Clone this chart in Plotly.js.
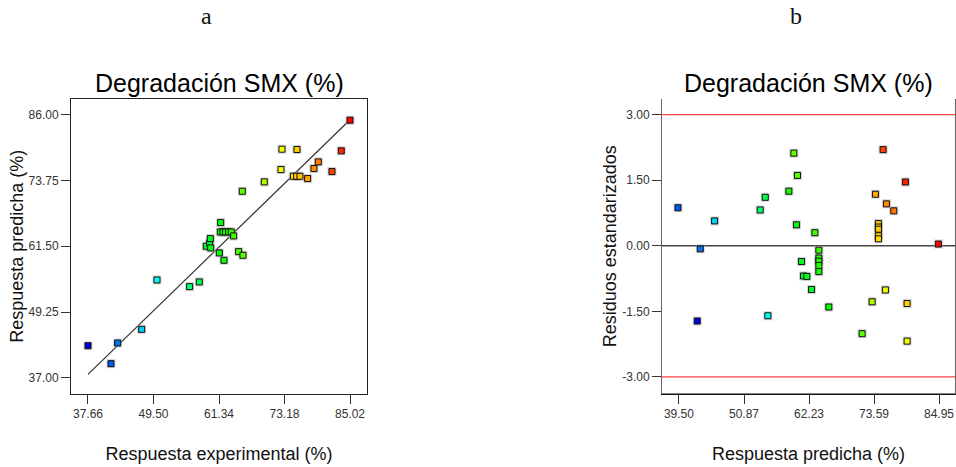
<!DOCTYPE html>
<html>
<head>
<meta charset="utf-8">
<script src="https://cdn.plot.ly/plotly-3.0.1.min.js"></script>
<style>html,body{margin:0;padding:0;background:#fff;}#chart{width:956px;height:467px;}</style>
</head>
<body>
<div id="chart"></div>
<script>
// ---- Panel a: predicted vs experimental ----
const experimental = [37.66, 41.82, 43.02, 47.36, 50.13, 56.03, 57.78, 59.05, 59.65, 59.77, 59.83, 61.40, 61.64,
  61.58, 62.06, 62.54, 63.08, 63.56, 63.98, 62.24, 64.89, 65.67, 65.55, 69.53, 72.54, 72.72, 75.43,
  74.77, 75.37, 75.97, 77.36, 78.50, 79.29, 81.76, 83.44, 85.02];
const predictedA = [43.00, 39.66, 43.51, 46.05, 55.23, 53.99, 54.86, 61.50, 62.05, 62.92, 61.19, 60.26, 65.90,
  64.16, 64.16, 64.16, 64.16, 64.16, 63.42, 58.89, 60.50, 59.82, 71.73, 73.47, 75.76, 79.55, 79.49,
  74.52, 74.52, 74.52, 74.09, 75.95, 77.19, 75.39, 79.24, 84.95];
const fitLine = [37.66, 85.02];

// ---- Panel b: standardized residuals vs predicted ----
const predictedB = [39.33, 43.23, 42.70, 45.73, 53.70, 54.58, 55.04, 58.71, 59.58, 60.22, 60.05, 60.92, 61.27,
  61.85, 62.67, 63.25, 63.95, 63.95, 63.95, 63.95, 63.95, 65.69, 71.51, 73.26, 73.84,
  74.36, 74.36, 74.36, 74.36, 74.36, 75.18, 75.76, 75.58, 77.04, 79.08, 79.37, 79.37, 84.84];
const residuals = [0.87, -0.07, -1.72, 0.57, 0.82, 1.11, -1.60, 1.25, 2.12, 1.61, 0.48, -0.36, -0.69,
  -0.70, -1.00, 0.30, -0.10, -0.28, -0.35, -0.45, -0.59, -1.40, -2.01, -1.28, 1.18,
  0.51, 0.43, 0.38, 0.23, 0.16, 2.20, 0.96, -1.01, 0.80, 1.46, -1.32, -2.18, 0.04];
const actualB = [41.9, 43.0, 37.7, 47.4, 56.2, 57.9, 50.2, 62.5, 65.9, 65.1, 61.5, 59.8, 59.2,
  59.8, 59.7, 64.2, 63.7, 63.1, 62.9, 62.6, 62.2, 61.5, 65.5, 69.4, 77.4,
  75.9, 75.7, 75.5, 75.1, 74.8, 81.8, 78.6, 72.6, 79.4, 83.5, 75.4, 72.8, 85.0];
const limits = [-3, 3];
const zeroLevel = [0];

// ---- Tick labels ----
const xTicksA = [37.66, 49.50, 61.34, 73.18, 85.02];
const xTickTextA = ["37.66", "49.50", "61.34", "73.18", "85.02"];
const yTicksA = [37.00, 49.25, 61.50, 73.75, 86.00];
const yTickTextA = ["37.00", "49.25", "61.50", "73.75", "86.00"];
const xTicksB = [39.50, 50.87, 62.23, 73.59, 84.95];
const xTickTextB = ["39.50", "50.87", "62.23", "73.59", "84.95"];
const yTicksB = [-3.00, -1.50, 0.00, 1.50, 3.00];
const yTickTextB = ["-3.00", "-1.50", "0.00", "1.50", "3.00"];

const cmin = 37.66, cmax = 85.02;
const scale = [[0, '#0000e6'], [0.25, '#00ffff'], [0.5, '#00ff00'], [0.75, '#ffff00'], [1, '#ff0000']];
const FONT = 'Liberation Sans, Arial, sans-serif';

const halo = {symbol: 'square', size: 9, color: 'rgba(170,170,170,0.5)', line: {width: 0}};
function pts(color) {
  return {symbol: 'square', size: 6, color: color, colorscale: scale, cmin: cmin, cmax: cmax,
          showscale: false, line: {color: '#111', width: 1}};
}

const traces = [
  {x: fitLine, y: fitLine, mode: 'lines', line: {color: '#333', width: 1.2}, xaxis: 'x', yaxis: 'y', hoverinfo: 'skip'},
  {x: experimental, y: predictedA, mode: 'markers', marker: halo, xaxis: 'x', yaxis: 'y', hoverinfo: 'skip'},
  {x: experimental, y: predictedA, mode: 'markers', marker: pts(experimental), xaxis: 'x', yaxis: 'y'},
  {x: predictedB, y: residuals, mode: 'markers', marker: halo, xaxis: 'x2', yaxis: 'y2', hoverinfo: 'skip'},
  {x: predictedB, y: residuals, mode: 'markers', marker: pts(actualB), xaxis: 'x2', yaxis: 'y2'}
];

const axisCommon = {
  showgrid: false, zeroline: false, ticks: 'outside', ticklen: 9, tickwidth: 1, tickcolor: '#333',
  tickfont: {family: FONT, size: 12, color: '#333'}, showline: true, linewidth: 1, tickmode: 'array', fixedrange: true
};

const yDom = [73 / 467, 368.5 / 467];

const layout = {
  width: 956, height: 467,
  margin: {l: 0, r: 0, t: 0, b: 0},
  paper_bgcolor: '#fff', plot_bgcolor: '#fff',
  showlegend: false,
  font: {family: FONT, color: '#111'},
  xaxis: Object.assign({}, axisCommon, {
    domain: [71 / 956, 367 / 956], range: [34.59, 88.09], anchor: 'y',
    tickvals: xTicksA, ticktext: xTickTextA, linecolor: '#222', mirror: true,
    title: {text: 'Respuesta experimental (%)', font: {family: FONT, size: 18, color: '#111'}, standoff: 26}
  }),
  yaxis: Object.assign({}, axisCommon, {
    domain: yDom, range: [34.02, 88.98], anchor: 'x',
    tickvals: yTicksA, ticktext: yTickTextA, linecolor: '#222', mirror: true,
    title: {text: 'Respuesta predicha (%)', font: {family: FONT, size: 18, color: '#111'}, standoff: 0}
  }),
  xaxis2: Object.assign({}, axisCommon, {
    domain: [662 / 956, 955 / 956], range: [36.54, 87.74], anchor: 'y2',
    tickvals: xTicksB, ticktext: xTickTextB, linecolor: '#111',
    title: {text: 'Respuesta predicha (%)', font: {family: FONT, size: 18, color: '#111'}, standoff: 26}
  }),
  yaxis2: Object.assign({}, axisCommon, {
    domain: yDom, range: [-3.39, 3.37], anchor: 'x2',
    tickvals: yTicksB, ticktext: yTickTextB, linecolor: '#666', mirror: true,
    title: {text: 'Residuos estandarizados', font: {family: FONT, size: 18, color: '#111'}, standoff: 0}
  }),
  shapes: [
    {type: 'line', xref: 'x2 domain', yref: 'y2', x0: 0, x1: 1, y0: limits[0], y1: limits[0], line: {color: '#ff4040', width: 1.2}},
    {type: 'line', xref: 'x2 domain', yref: 'y2', x0: 0, x1: 1, y0: limits[1], y1: limits[1], line: {color: '#ff4040', width: 1.2}},
    {type: 'line', xref: 'x2 domain', yref: 'y2', x0: 0, x1: 1, y0: zeroLevel[0], y1: zeroLevel[0], line: {color: '#444', width: 1.5}, layer: 'below'},
    {type: 'line', xref: 'x2 domain', yref: 'y2 domain', x0: 0, x1: 1, y0: 0, y1: 0, line: {color: '#111', width: 1.2}}
  ],
  annotations: [
    {text: 'Degradación SMX (%)', xref: 'x domain', yref: 'paper', x: 0.5, y: (467 - 83) / 467, xanchor: 'center', yanchor: 'middle',
     showarrow: false, font: {family: FONT, size: 25, color: '#000'}},
    {text: 'Degradación SMX (%)', xref: 'x2 domain', yref: 'paper', x: 0.5, y: (467 - 83) / 467, xanchor: 'center', yanchor: 'middle',
     showarrow: false, font: {family: FONT, size: 25, color: '#000'}},
    {text: 'a', xref: 'paper', yref: 'paper', x: 206 / 956, y: (467 - 16) / 467, xanchor: 'center', yanchor: 'middle',
     showarrow: false, font: {family: 'Liberation Serif, Times New Roman, serif', size: 24, color: '#111'}},
    {text: 'b', xref: 'paper', yref: 'paper', x: 796 / 956, y: (467 - 16) / 467, xanchor: 'center', yanchor: 'middle',
     showarrow: false, font: {family: 'Liberation Serif, Times New Roman, serif', size: 24, color: '#111'}}
  ]
};

Plotly.newPlot('chart', traces, layout, {displayModeBar: false, staticPlot: true});
</script>
</body>
</html>
